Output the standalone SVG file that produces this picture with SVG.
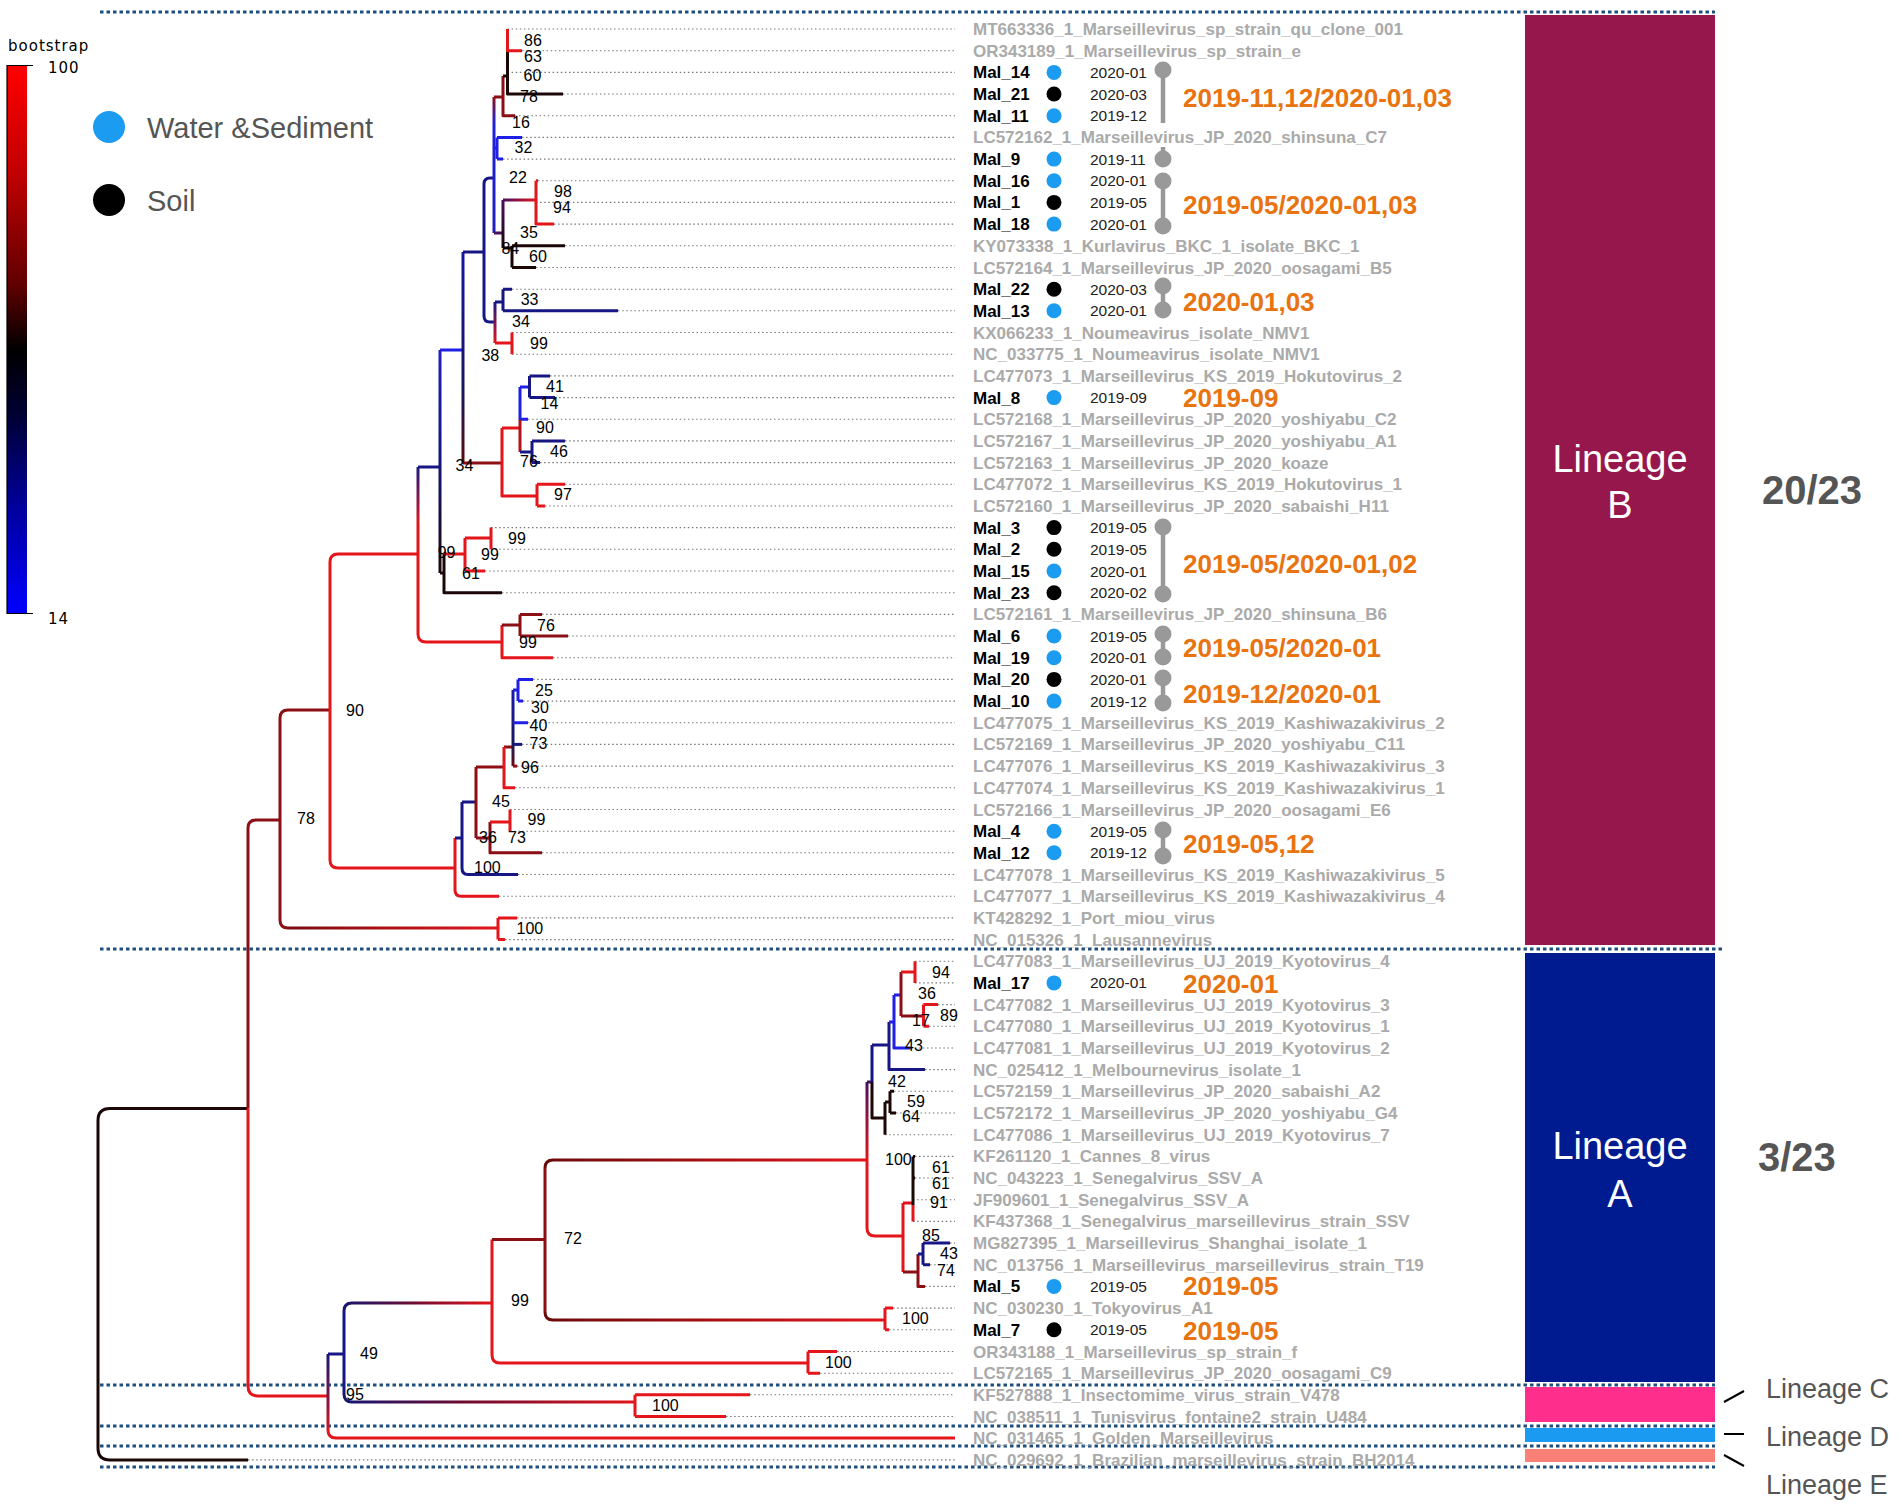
<svg xmlns="http://www.w3.org/2000/svg" width="1902" height="1506" viewBox="0 0 1902 1506">
<style>
.br{fill:none;stroke-width:3;stroke-linecap:butt;stroke-linejoin:round}
.r{stroke:#e4151b}.dr{stroke:#8c0f15}.mr{stroke:#b3121a}.k{stroke:#1c0707}.nv{stroke:#161684}.bl{stroke:#1f1fe6}.pu{stroke:#4a1060}
.lf{fill:none;stroke:#777;stroke-width:1.1;stroke-dasharray:1.5 2.6}
.dv{fill:none;stroke:#1f4f7d;stroke-width:3.2;stroke-dasharray:3.5 3}
.gl{font-family:'Liberation Sans',Arial,sans-serif;font-weight:bold;font-size:17px;fill:#aaaaaa}
.ml{font-family:'Liberation Sans',Arial,sans-serif;font-weight:bold;font-size:17px;fill:#000}
.bs{font-family:'Liberation Sans',Arial,sans-serif;font-size:16px;fill:#000}
.dt{font-family:'Liberation Sans',Arial,sans-serif;font-size:15.5px;fill:#222}
.or{font-family:'Liberation Sans',Arial,sans-serif;font-weight:bold;font-size:26px;fill:#e8730f}
.lp{stroke:#999;stroke-width:4.5;fill:none}
.lc{fill:#999}
.wb{fill:#1b9cf0}.kb{fill:#000}
.lin{font-family:'Liberation Sans',Arial,sans-serif;font-size:38px;fill:#fff;text-anchor:middle}
.cnt{font-family:'Liberation Sans',Arial,sans-serif;font-weight:bold;font-size:40px;fill:#555}
.lsm{font-family:'Liberation Sans',Arial,sans-serif;font-size:27px;fill:#555}
.leg{font-family:'Liberation Sans',Arial,sans-serif;font-size:29px;fill:#555}
.sc{font-family:'DejaVu Sans',sans-serif;font-size:15px;fill:#000;letter-spacing:1px}
</style>
<defs>
<linearGradient id="bar" x1="0" y1="0" x2="0" y2="1">
<stop offset="0" stop-color="#ff0000"/><stop offset="0.2" stop-color="#c00000"/><stop offset="0.4" stop-color="#600000"/><stop offset="0.52" stop-color="#000000"/><stop offset="0.64" stop-color="#000035"/><stop offset="0.8" stop-color="#000099"/><stop offset="1" stop-color="#0000ff"/>
</linearGradient>
<linearGradient id="g1" gradientUnits="userSpaceOnUse" x1="344" y1="0" x2="492" y2="0"><stop offset="0" stop-color="#161670"/><stop offset="0.45" stop-color="#6a0a30"/><stop offset="1" stop-color="#e4151b"/></linearGradient>
<linearGradient id="g2" gradientUnits="userSpaceOnUse" x1="344" y1="0" x2="635" y2="0"><stop offset="0" stop-color="#161670"/><stop offset="0.4" stop-color="#6a0a30"/><stop offset="1" stop-color="#e4151b"/></linearGradient>
<linearGradient id="g3" gradientUnits="userSpaceOnUse" x1="545" y1="0" x2="867" y2="0"><stop offset="0" stop-color="#6a0a0a"/><stop offset="1" stop-color="#e4151b"/></linearGradient>
<linearGradient id="g4" gradientUnits="userSpaceOnUse" x1="545" y1="0" x2="885" y2="0"><stop offset="0" stop-color="#6a0a0a"/><stop offset="1" stop-color="#e4151b"/></linearGradient>
<linearGradient id="g5" gradientUnits="userSpaceOnUse" x1="288" y1="0" x2="498" y2="0"><stop offset="0" stop-color="#7a0c10"/><stop offset="1" stop-color="#e4151b"/></linearGradient>
<linearGradient id="g6" gradientUnits="userSpaceOnUse" x1="0" y1="467" x2="0" y2="525"><stop offset="0" stop-color="#1a1a80"/><stop offset="1" stop-color="#e4151b"/></linearGradient>
<linearGradient id="g7" gradientUnits="userSpaceOnUse" x1="0" y1="350" x2="0" y2="573"><stop offset="0" stop-color="#2020c0"/><stop offset="0.5" stop-color="#14147a"/><stop offset="1" stop-color="#1c0707"/></linearGradient>
<linearGradient id="g8" gradientUnits="userSpaceOnUse" x1="0" y1="252" x2="0" y2="463"><stop offset="0" stop-color="#1616a0"/><stop offset="0.65" stop-color="#161660"/><stop offset="1" stop-color="#5a0a10"/></linearGradient>
<linearGradient id="g9" gradientUnits="userSpaceOnUse" x1="0" y1="302" x2="0" y2="343"><stop offset="0" stop-color="#161684"/><stop offset="1" stop-color="#e4151b"/></linearGradient>
<linearGradient id="g10" gradientUnits="userSpaceOnUse" x1="0" y1="97" x2="0" y2="233"><stop offset="0" stop-color="#8c0f15"/><stop offset="0.2" stop-color="#2020e0"/><stop offset="1" stop-color="#1f1fc0"/></linearGradient>
<linearGradient id="g11" gradientUnits="userSpaceOnUse" x1="0" y1="1354" x2="0" y2="1438"><stop offset="0" stop-color="#161670"/><stop offset="1" stop-color="#e4151b"/></linearGradient>
<linearGradient id="g12" gradientUnits="userSpaceOnUse" x1="0" y1="1082" x2="0" y2="1160"><stop offset="0" stop-color="#4a1060"/><stop offset="1" stop-color="#e4151b"/></linearGradient>
<linearGradient id="g13" gradientUnits="userSpaceOnUse" x1="0" y1="200" x2="0" y2="248"><stop offset="0" stop-color="#4a1060"/><stop offset="1" stop-color="#1c0707"/></linearGradient>
<linearGradient id="g14" gradientUnits="userSpaceOnUse" x1="503" y1="0" x2="536" y2="0"><stop offset="0" stop-color="#4a1060"/><stop offset="1" stop-color="#e4151b"/></linearGradient>
<linearGradient id="g15" gradientUnits="userSpaceOnUse" x1="0" y1="690" x2="0" y2="766"><stop offset="0" stop-color="#1a1ab0"/><stop offset="0.7" stop-color="#161660"/><stop offset="1" stop-color="#6a0a10"/></linearGradient>
</defs>
<rect width="1902" height="1506" fill="#fff"/>

<g id="legend">
<text class="sc" x="8" y="51">bootstrap</text>
<rect x="7" y="65" width="20" height="549" fill="url(#bar)"/>
<path d="M7 65V614M7 65.5H33M7 613.5H33" stroke="#000" stroke-width="1.2" fill="none"/>
<text class="sc" x="48" y="73" letter-spacing="2">100</text>
<text class="sc" x="48" y="624" letter-spacing="2">14</text>
<circle cx="109" cy="127" r="16" class="wb"/>
<text class="leg" x="147" y="138">Water &amp;Sediment</text>
<circle cx="109" cy="200" r="16" class="kb"/>
<text class="leg" x="147" y="211">Soil</text>
</g>

<g id="dividers">
<path class="dv" d="M100 12H1715M100 949H1725M100 1385H1715M100 1426H1715M100 1446H1715M100 1467H1715"/>
</g>

<g id="lineage-bars">
<rect x="1525" y="15" width="190" height="930" fill="#96174b"/>
<rect x="1525" y="953" width="190" height="429" fill="#001a8f"/>
<rect x="1525" y="1387" width="190" height="35" fill="#fe2e8c"/>
<rect x="1525" y="1428" width="190" height="14" fill="#1a9af0"/>
<rect x="1525" y="1449" width="190" height="13" fill="#f98077"/>
<text class="lin" x="1620" y="472">Lineage</text>
<text class="lin" x="1620" y="518">B</text>
<text class="lin" x="1620" y="1159">Lineage</text>
<text class="lin" x="1620" y="1207">A</text>
<text class="cnt" x="1762" y="504">20/23</text>
<text class="cnt" x="1758" y="1171">3/23</text>
<path d="M1724 1402L1744 1391M1724 1434H1744M1724 1455L1744 1466" stroke="#000" stroke-width="2" fill="none"/>
<text class="lsm" x="1766" y="1398">Lineage C</text>
<text class="lsm" x="1766" y="1446">Lineage D</text>
<text class="lsm" x="1766" y="1494">Lineage E</text>
</g>

<g id="leaf-lines">
<path class="lf" d="M507.5 29H955M522 50.7H955M507.5 72.4H955M563 94H955M515 115.7H955M522 137.4H955M503 159.1H955M538 180.8H955M536 202.4H955M554 224.1H955M565 245.8H955M536 267.5H955M512 289.2H955M618 310.8H955M512 332.5H955M512 354.2H955M550 375.9H955M555 397.6H955M528 419.2H955M565 440.9H955M540 462.6H955M565 484.3H955M545 506H955M491 527.6H955M491 549.3H955M485 571H955M502 592.7H955M542 614.4H955M568 636H955M553 657.7H955M533 679.4H955M523 701.1H955M528 722.8H955M522 744.4H955M517 766.1H955M515 787.8H955M510 809.5H955M510 831.2H955M542 852.8H955M518 874.5H955M499 896.2H955M517 917.9H955M505 939.6H955M915 961.2H955M915 982.9H955M938 1004.6H955M929 1026.3H955M910.5 1048H955M925 1069.6H955M894 1091.3H955M896 1113H955M885 1134.7H955M915 1156.4H955M915 1178H955M913 1199.7H955M913 1221.4H955M950 1243.1H955M930 1264.8H955M925 1286.4H955M893 1308.1H955M889 1329.8H955M837 1351.5H955M820 1373.2H955M750 1394.8H955M726 1416.5H955M248 1459.9H955"/>
</g>

<g id="connectors">
<path class="br k" d="M248 1108.5H110Q98 1108.5 98 1120.5V1448Q98 1460 110 1460H248"/>
<path class="br dr" d="M280 820H256Q248 820 248 828V1108.5"/>
<path class="br r" d="M248 1108.5V1386Q248 1396 258 1396H328"/>
<path class="br dr" d="M330 710H288Q280 710 280 718V920Q280 928 288 928"/>
<path class="br" stroke="url(#g5)" d="M288 928H498"/>
<path class="br r" d="M418 554H338Q330 554 330 562V860Q330 868 338 868H455"/>
<path class="br r" d="M498 917.9V939.6M498 917.9H517M498 939.6H505"/>
<path class="br r" d="M455 838V890Q455 896.2 461 896.2H499"/>
<path class="br nv" d="M455 838H462M462 802V868Q462 874.5 468 874.5H518M462 802H476"/>
<path class="br dr" d="M476 767V838M476 767H504M476 838H490M490 822V852.8H542M504 747H513"/>
<path class="br r" d="M490 822H510M510 809.5V831.2M504 747V787.8H515"/>
<path class="br" stroke="url(#g15)" d="M513 690V766.1"/>
<path class="br dr" d="M513 766.1H517"/>
<path class="br nv" d="M513 744.4H522"/>
<path class="br bl" d="M513 722.8H528M513 690H518M518 679.4V701.1M518 701.1H523M518 679.4H533"/>
<path class="br" stroke="url(#g6)" d="M418 467V525"/>
<path class="br r" d="M418 525V634Q418 642 426 642H502"/>
<path class="br nv" d="M418 467H440"/>
<path class="br r" d="M502 625V657.7H553"/>
<path class="br dr" d="M502 625H520M520 614.4V636M520 614.4H542M520 636H568"/>
<path class="br" stroke="url(#g7)" d="M440 350V573"/>
<path class="br bl" d="M440 350H463"/>
<path class="br k" d="M440 573H444M444 554V592.7H502"/>
<path class="br r" d="M444 554H465M465 538V571M465 538H491M465 571H485M491 527.6V549.3"/>
<path class="br" stroke="url(#g8)" d="M463 252V463"/>
<path class="br nv" d="M463 252H484"/>
<path class="br dr" d="M463 463H502"/>
<path class="br r" d="M502 428V496H537M502 428H520M537 484.3V506M537 484.3H565M537 506H545"/>
<path class="br bl" d="M520 387V420M520 387H529.5M520 419.2H528"/>
<path class="br mr" d="M520 420V452"/>
<path class="br nv" d="M520 452H532M529.5 375.9V397.6M529.5 375.9H550M529.5 397.6H555M532 440.9V462.6M532 440.9H565M532 462.6H540"/>
<path class="br nv" d="M494 178H490Q484 178 484 184V316Q484 322 490 322H495"/>
<path class="br" stroke="url(#g9)" d="M495 302V343"/>
<path class="br nv" d="M495 302H503M503 289.2V310.8M503 289.2H512M503 310.8H618"/>
<path class="br r" d="M495 343H512M512 332.5V354.2"/>
<path class="br" stroke="url(#g10)" d="M494 97V233"/>
<path class="br dr" d="M494 97H503M503 76V115.7H515"/>
<path class="br bl" d="M494 148H497M497 137.4V159.1M497 137.4H522M497 159.1H503"/>
<path class="br pu" d="M494 233H503"/>
<path class="br k" d="M503 76H507.5M507.5 52V94H563"/>
<path class="br r" d="M507.5 29V52M507.5 50.7H522"/>
<path class="br" stroke="url(#g13)" d="M503 200V248"/>
<path class="br" stroke="url(#g14)" d="M503 200H536"/>
<path class="br k" d="M503 248H512M512 245.8V267.5M512 245.8H565M512 267.5H536"/>
<path class="br r" d="M536 180.8V224.1H554M536 180.8H538"/>
<path class="br" stroke="url(#g11)" d="M328 1354V1430"/>
<path class="br r" d="M328 1430Q328 1438 336 1438H955"/>
<path class="br nv" d="M328 1354H344M344 1311V1394"/>
<path class="br" stroke="url(#g1)" d="M344 1311Q344 1303 352 1303H492"/>
<path class="br" stroke="url(#g2)" d="M344 1394Q344 1402 352 1402H635"/>
<path class="br r" d="M635 1394.8V1416.5M635 1394.8H750M635 1416.5H726"/>
<path class="br r" d="M492 1239.5V1355Q492 1363 500 1363H808M808 1351.5V1373.2M808 1351.5H837M808 1373.2H820"/>
<path class="br dr" d="M492 1239.5H545M545 1168V1312"/>
<path class="br" stroke="url(#g3)" d="M545 1168Q545 1160 553 1160H867"/>
<path class="br" stroke="url(#g4)" d="M545 1312Q545 1320 553 1320H885"/>
<path class="br r" d="M885 1308.1V1329.8M885 1308.1H893M885 1329.8H889"/>
<path class="br" stroke="url(#g12)" d="M867 1082V1228"/>
<path class="br r" d="M867 1228Q867 1236 875 1236H903M903 1203V1272M903 1203H913M913 1205V1221.4"/>
<path class="br pu" d="M867 1082H872"/>
<path class="br k" d="M913 1156.4V1205M913 1156.4H915M913 1178H915"/>
<path class="br dr" d="M903 1272H918M918 1254V1286.4H925"/>
<path class="br nv" d="M918 1254H923M923 1243.1V1264.8M923 1243.1H950M923 1264.8H930"/>
<path class="br nv" d="M872 1045V1082M872 1045H889M889 1022V1069.6H925"/>
<path class="br k" d="M872 1082V1118H885M885 1102V1134.7M885 1102H890M890 1091.3V1113M890 1091.3H894M890 1113H896"/>
<path class="br bl" d="M889 1022H894M894 995V1048H910.5M894 995H901"/>
<path class="br dr" d="M901 972V1016M901 1016H923.5"/>
<path class="br r" d="M901 972H915M915 961.2V982.9M923.5 1004.6V1026.3M923.5 1004.6H938M923.5 1026.3H929"/>
</g>

<g id="bootstrap-labels" class="bs">
<text x="524" y="46">86</text><text x="524" y="62">63</text><text x="523.6" y="81">60</text><text x="520" y="102">78</text>
<text x="512" y="128">16</text><text x="514.6" y="153">32</text><text x="509" y="183">22</text><text x="554" y="197">98</text>
<text x="553" y="213">94</text><text x="520" y="238">35</text><text x="501.4" y="254">84</text><text x="529" y="262">60</text>
<text x="520.7" y="305">33</text><text x="512" y="327">34</text><text x="530" y="349">99</text><text x="481.4" y="361">38</text>
<text x="546" y="392">41</text><text x="540.6" y="409">14</text><text x="536" y="433">90</text><text x="550" y="457">46</text>
<text x="520" y="467">76</text><text x="455.5" y="471">34</text><text x="554" y="500">97</text><text x="508" y="544">99</text>
<text x="481" y="560">99</text><text x="437.7" y="558">99</text><text x="462" y="579">61</text><text x="537" y="631">76</text>
<text x="519" y="648">99</text><text x="535" y="696">25</text><text x="531" y="713">30</text><text x="529.5" y="731">40</text>
<text x="529.5" y="749">73</text><text x="521" y="773">96</text><text x="492" y="807">45</text><text x="527.6" y="825">99</text>
<text x="479" y="843">36</text><text x="508" y="843">73</text><text x="474" y="873">100</text><text x="516.5" y="934">100</text>
<text x="346" y="716">90</text><text x="297" y="824">78</text>
<text x="932" y="978">94</text><text x="918" y="999">36</text><text x="912" y="1026">17</text><text x="940" y="1021">89</text>
<text x="905" y="1051">43</text><text x="888" y="1087">42</text><text x="907" y="1107">59</text><text x="902" y="1122">64</text>
<text x="885" y="1165">100</text><text x="932" y="1173">61</text><text x="932" y="1189">61</text><text x="930" y="1208">91</text>
<text x="922" y="1241">85</text><text x="940" y="1259">43</text><text x="937" y="1276">74</text><text x="564" y="1244">72</text>
<text x="511" y="1306">99</text><text x="902" y="1324">100</text><text x="825" y="1368">100</text><text x="652" y="1411">100</text>
<text x="360" y="1359">49</text><text x="346" y="1400">95</text>
</g>

<g id="leaf-labels">
<text class="gl" x="973" y="35">MT663336_1_Marseillevirus_sp_strain_qu_clone_001</text>
<text class="gl" x="973" y="56.7">OR343189_1_Marseillevirus_sp_strain_e</text>
<text class="ml" x="973" y="78.4">Mal_14</text>
<text class="ml" x="973" y="100">Mal_21</text>
<text class="ml" x="973" y="121.7">Mal_11</text>
<text class="gl" x="973" y="143.4">LC572162_1_Marseillevirus_JP_2020_shinsuna_C7</text>
<text class="ml" x="973" y="165.1">Mal_9</text>
<text class="ml" x="973" y="186.8">Mal_16</text>
<text class="ml" x="973" y="208.4">Mal_1</text>
<text class="ml" x="973" y="230.1">Mal_18</text>
<text class="gl" x="973" y="251.8">KY073338_1_Kurlavirus_BKC_1_isolate_BKC_1</text>
<text class="gl" x="973" y="273.5">LC572164_1_Marseillevirus_JP_2020_oosagami_B5</text>
<text class="ml" x="973" y="295.2">Mal_22</text>
<text class="ml" x="973" y="316.8">Mal_13</text>
<text class="gl" x="973" y="338.5">KX066233_1_Noumeavirus_isolate_NMV1</text>
<text class="gl" x="973" y="360.2">NC_033775_1_Noumeavirus_isolate_NMV1</text>
<text class="gl" x="973" y="381.9">LC477073_1_Marseillevirus_KS_2019_Hokutovirus_2</text>
<text class="ml" x="973" y="403.6">Mal_8</text>
<text class="gl" x="973" y="425.2">LC572168_1_Marseillevirus_JP_2020_yoshiyabu_C2</text>
<text class="gl" x="973" y="446.9">LC572167_1_Marseillevirus_JP_2020_yoshiyabu_A1</text>
<text class="gl" x="973" y="468.6">LC572163_1_Marseillevirus_JP_2020_koaze</text>
<text class="gl" x="973" y="490.3">LC477072_1_Marseillevirus_KS_2019_Hokutovirus_1</text>
<text class="gl" x="973" y="512">LC572160_1_Marseillevirus_JP_2020_sabaishi_H11</text>
<text class="ml" x="973" y="533.6">Mal_3</text>
<text class="ml" x="973" y="555.3">Mal_2</text>
<text class="ml" x="973" y="577">Mal_15</text>
<text class="ml" x="973" y="598.7">Mal_23</text>
<text class="gl" x="973" y="620.4">LC572161_1_Marseillevirus_JP_2020_shinsuna_B6</text>
<text class="ml" x="973" y="642">Mal_6</text>
<text class="ml" x="973" y="663.7">Mal_19</text>
<text class="ml" x="973" y="685.4">Mal_20</text>
<text class="ml" x="973" y="707.1">Mal_10</text>
<text class="gl" x="973" y="728.8">LC477075_1_Marseillevirus_KS_2019_Kashiwazakivirus_2</text>
<text class="gl" x="973" y="750.4">LC572169_1_Marseillevirus_JP_2020_yoshiyabu_C11</text>
<text class="gl" x="973" y="772.1">LC477076_1_Marseillevirus_KS_2019_Kashiwazakivirus_3</text>
<text class="gl" x="973" y="793.8">LC477074_1_Marseillevirus_KS_2019_Kashiwazakivirus_1</text>
<text class="gl" x="973" y="815.5">LC572166_1_Marseillevirus_JP_2020_oosagami_E6</text>
<text class="ml" x="973" y="837.2">Mal_4</text>
<text class="ml" x="973" y="858.8">Mal_12</text>
<text class="gl" x="973" y="880.5">LC477078_1_Marseillevirus_KS_2019_Kashiwazakivirus_5</text>
<text class="gl" x="973" y="902.2">LC477077_1_Marseillevirus_KS_2019_Kashiwazakivirus_4</text>
<text class="gl" x="973" y="923.9">KT428292_1_Port_miou_virus</text>
<text class="gl" x="973" y="945.6">NC_015326_1_Lausannevirus</text>
<text class="gl" x="973" y="967.2">LC477083_1_Marseillevirus_UJ_2019_Kyotovirus_4</text>
<text class="ml" x="973" y="988.9">Mal_17</text>
<text class="gl" x="973" y="1010.6">LC477082_1_Marseillevirus_UJ_2019_Kyotovirus_3</text>
<text class="gl" x="973" y="1032.3">LC477080_1_Marseillevirus_UJ_2019_Kyotovirus_1</text>
<text class="gl" x="973" y="1054">LC477081_1_Marseillevirus_UJ_2019_Kyotovirus_2</text>
<text class="gl" x="973" y="1075.6">NC_025412_1_Melbournevirus_isolate_1</text>
<text class="gl" x="973" y="1097.3">LC572159_1_Marseillevirus_JP_2020_sabaishi_A2</text>
<text class="gl" x="973" y="1119">LC572172_1_Marseillevirus_JP_2020_yoshiyabu_G4</text>
<text class="gl" x="973" y="1140.7">LC477086_1_Marseillevirus_UJ_2019_Kyotovirus_7</text>
<text class="gl" x="973" y="1162.4">KF261120_1_Cannes_8_virus</text>
<text class="gl" x="973" y="1184">NC_043223_1_Senegalvirus_SSV_A</text>
<text class="gl" x="973" y="1205.7">JF909601_1_Senegalvirus_SSV_A</text>
<text class="gl" x="973" y="1227.4">KF437368_1_Senegalvirus_marseillevirus_strain_SSV</text>
<text class="gl" x="973" y="1249.1">MG827395_1_Marseillevirus_Shanghai_isolate_1</text>
<text class="gl" x="973" y="1270.8">NC_013756_1_Marseillevirus_marseillevirus_strain_T19</text>
<text class="ml" x="973" y="1292.4">Mal_5</text>
<text class="gl" x="973" y="1314.1">NC_030230_1_Tokyovirus_A1</text>
<text class="ml" x="973" y="1335.8">Mal_7</text>
<text class="gl" x="973" y="1357.5">OR343188_1_Marseillevirus_sp_strain_f</text>
<text class="gl" x="973" y="1379.2">LC572165_1_Marseillevirus_JP_2020_oosagami_C9</text>
<text class="gl" x="973" y="1400.8">KF527888_1_Insectomime_virus_strain_V478</text>
<text class="gl" x="973" y="1422.5">NC_038511_1_Tunisvirus_fontaine2_strain_U484</text>
<text class="gl" x="973" y="1444.2">NC_031465_1_Golden_Marseillevirus</text>
<text class="gl" x="973" y="1465.9">NC_029692_1_Brazilian_marseillevirus_strain_BH2014</text>
</g>

<g id="sample-dots">
<circle cx="1054" cy="72.4" r="7.5" class="wb"/><circle cx="1054" cy="94" r="7.5" class="kb"/><circle cx="1054" cy="115.7" r="7.5" class="wb"/>
<circle cx="1054" cy="159.1" r="7.5" class="wb"/><circle cx="1054" cy="180.8" r="7.5" class="wb"/><circle cx="1054" cy="202.4" r="7.5" class="kb"/>
<circle cx="1054" cy="224.1" r="7.5" class="wb"/><circle cx="1054" cy="289.2" r="7.5" class="kb"/><circle cx="1054" cy="310.8" r="7.5" class="wb"/>
<circle cx="1054" cy="397.6" r="7.5" class="wb"/><circle cx="1054" cy="527.6" r="7.5" class="kb"/><circle cx="1054" cy="549.3" r="7.5" class="kb"/>
<circle cx="1054" cy="571" r="7.5" class="wb"/><circle cx="1054" cy="592.7" r="7.5" class="kb"/><circle cx="1054" cy="636" r="7.5" class="wb"/>
<circle cx="1054" cy="657.7" r="7.5" class="wb"/><circle cx="1054" cy="679.4" r="7.5" class="kb"/><circle cx="1054" cy="701.1" r="7.5" class="wb"/>
<circle cx="1054" cy="831.2" r="7.5" class="wb"/><circle cx="1054" cy="852.8" r="7.5" class="wb"/><circle cx="1054" cy="982.9" r="7.5" class="wb"/>
<circle cx="1054" cy="1286.4" r="7.5" class="wb"/><circle cx="1054" cy="1329.8" r="7.5" class="kb"/>
</g>

<g id="dates" class="dt">
<text x="1090" y="78">2020-01</text><text x="1090" y="99.5">2020-03</text><text x="1090" y="121.2">2019-12</text>
<text x="1090" y="164.6">2019-11</text><text x="1090" y="186.3">2020-01</text><text x="1090" y="207.9">2019-05</text>
<text x="1090" y="229.6">2020-01</text><text x="1090" y="294.7">2020-03</text><text x="1090" y="316.3">2020-01</text>
<text x="1090" y="403.1">2019-09</text><text x="1090" y="533.1">2019-05</text><text x="1090" y="554.8">2019-05</text>
<text x="1090" y="576.5">2020-01</text><text x="1090" y="598.2">2020-02</text><text x="1090" y="641.5">2019-05</text>
<text x="1090" y="663.2">2020-01</text><text x="1090" y="684.9">2020-01</text><text x="1090" y="706.6">2019-12</text>
<text x="1090" y="836.7">2019-05</text><text x="1090" y="858.3">2019-12</text><text x="1090" y="988.4">2020-01</text>
<text x="1090" y="1291.9">2019-05</text><text x="1090" y="1335.3">2019-05</text>
</g>

<g id="date-groups">
<path class="lp" d="M1163 70V123M1163 147V159M1163 181V226M1163 286V310M1163 527V594M1163 634V657M1163 678V703M1163 830V856"/>
<circle class="lc" cx="1163" cy="70" r="8.5"/><circle class="lc" cx="1163" cy="159" r="8.5"/>
<circle class="lc" cx="1163" cy="181" r="8.5"/><circle class="lc" cx="1163" cy="226" r="8.5"/>
<circle class="lc" cx="1163" cy="286" r="8.5"/><circle class="lc" cx="1163" cy="310" r="8.5"/>
<circle class="lc" cx="1163" cy="527" r="8.5"/><circle class="lc" cx="1163" cy="594" r="8.5"/>
<circle class="lc" cx="1163" cy="634" r="8.5"/><circle class="lc" cx="1163" cy="657" r="8.5"/>
<circle class="lc" cx="1163" cy="678" r="8.5"/><circle class="lc" cx="1163" cy="703" r="8.5"/>
<circle class="lc" cx="1163" cy="830" r="8.5"/><circle class="lc" cx="1163" cy="856" r="8.5"/>
<text class="or" x="1183" y="106.5">2019-11,12/2020-01,03</text>
<text class="or" x="1183" y="213.5">2019-05/2020-01,03</text>
<text class="or" x="1183" y="310.5">2020-01,03</text>
<text class="or" x="1183" y="406.5">2019-09</text>
<text class="or" x="1183" y="572.5">2019-05/2020-01,02</text>
<text class="or" x="1183" y="656.5">2019-05/2020-01</text>
<text class="or" x="1183" y="702.5">2019-12/2020-01</text>
<text class="or" x="1183" y="852.5">2019-05,12</text>
<text class="or" x="1183" y="992.5">2020-01</text>
<text class="or" x="1183" y="1294.5">2019-05</text>
<text class="or" x="1183" y="1339.5">2019-05</text>
</g>
</svg>
